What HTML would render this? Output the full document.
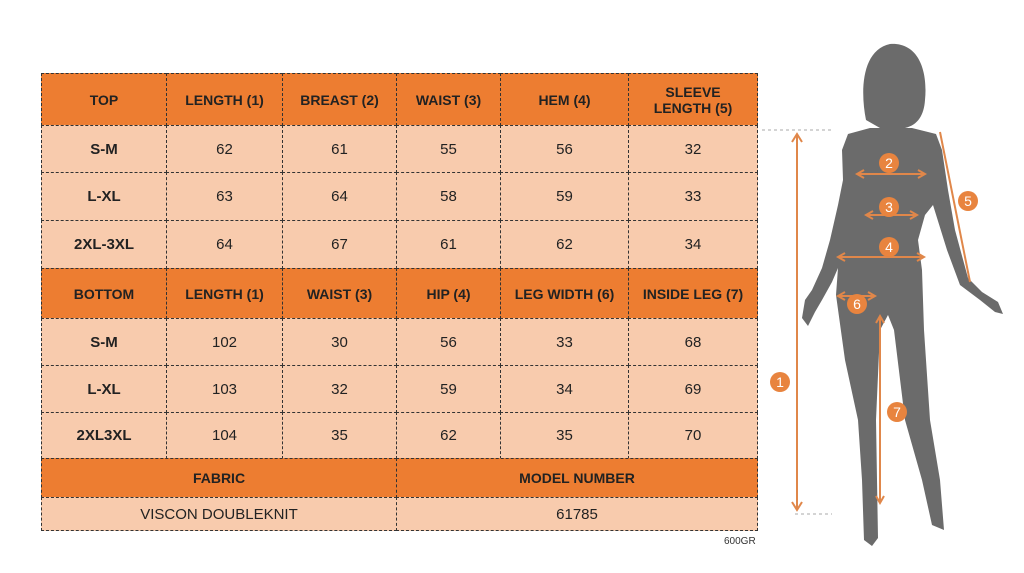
<!DOCTYPE html>
<html><head><meta charset="utf-8"><style>
body{margin:0;width:1024px;height:573px;background:#fff;position:relative;font-family:"Liberation Sans",sans-serif;overflow:hidden}
.c{position:absolute;box-sizing:border-box;border:1px dashed #333;display:flex;align-items:center;justify-content:center;text-align:center;font-size:15px;color:#222}
.h{background:#ed7d31;font-weight:bold;font-size:14px}
.l{background:#f8cbad}
.b{font-weight:bold}
</style></head><body>
<div id="t"></div>
<div style="position:absolute;left:724px;top:536px;font-size:10px;color:#333">600GR</div>
<svg width="1024" height="573" style="position:absolute;left:0;top:0">
<g fill="#6b6b6b">
<path d="M866,120 C860,90 862,50 890,44 C918,42 928,70 925,100 C924,115 918,125 905,128 L880,128 Z"/>
<rect x="880" y="112" width="22" height="24"/>
<polygon points="870,128 848,134 842,150 843,180 838,205 830,240 822,268 812,290 805,300 802,318 808,326 815,312 822,300 832,282 838,268 836,295 845,360 858,420 862,480 864,540 872,546 878,538 877,480 876,420 880,330 888,315 894,330 905,420 922,480 932,525 944,530 940,480 930,420 924,330 922,270 918,240 925,215 933,205 947,250 960,285 980,300 995,312 1003,314 998,302 982,292 968,278 955,230 948,190 942,150 936,134 912,128"/>
</g>
<g stroke="#e0874a" stroke-width="2" fill="none">
<line x1="797" y1="134" x2="797" y2="510"/><polyline points="792,142 797,134 802,142"/><polyline points="792,502 797,510 802,502"/>
<line x1="857" y1="174" x2="925" y2="174"/><polyline points="864,170 857,174 864,178"/><polyline points="918,170 925,174 918,178"/>
<line x1="866" y1="215" x2="917" y2="215"/><polyline points="873,211 866,215 873,219"/><polyline points="910,211 917,215 910,219"/>
<line x1="838" y1="257" x2="924" y2="257"/><polyline points="845,253 838,257 845,261"/><polyline points="917,253 924,257 917,261"/>
<line x1="838" y1="296" x2="875" y2="296"/><polyline points="845,292 838,296 845,300"/><polyline points="868,292 875,296 868,300"/>
<line x1="880" y1="316" x2="880" y2="503"/><polyline points="876,323 880,316 884,323"/><polyline points="876,496 880,503 884,496"/>
<line x1="940" y1="132" x2="970" y2="282"/>
</g>
<g stroke="#aaa" stroke-dasharray="3,3"><line x1="762" y1="130" x2="832" y2="130"/><line x1="795" y1="514" x2="832" y2="514"/></g>
<g fill="#e8843f"><circle cx="889" cy="163" r="10"/><circle cx="889" cy="207" r="10"/><circle cx="889" cy="247" r="10"/><circle cx="968" cy="201" r="10"/><circle cx="857" cy="304" r="10"/><circle cx="780" cy="382" r="10"/><circle cx="897" cy="412" r="10"/></g>
<g fill="#fff" font-size="14" text-anchor="middle" font-family="Liberation Sans"><text x="889" y="168">2</text><text x="889" y="212">3</text><text x="889" y="252">4</text><text x="968" y="206">5</text><text x="857" y="309">6</text><text x="780" y="387">1</text><text x="897" y="417">7</text></g>
</svg>
<script>
var X=[41,166,282,396,500,628,757];
var R=[[73,125,'h',['TOP','LENGTH (1)','BREAST (2)','WAIST (3)','HEM (4)','SLEEVE<br>LENGTH (5)']],
[125,172,'l',['S-M','62','61','55','56','32']],
[172,220,'l',['L-XL','63','64','58','59','33']],
[220,268,'l',['2XL-3XL','64','67','61','62','34']],
[268,318,'h',['BOTTOM','LENGTH (1)','WAIST (3)','HIP (4)','LEG WIDTH (6)','INSIDE LEG (7)']],
[318,365,'l',['S-M','102','30','56','33','68']],
[365,412,'l',['L-XL','103','32','59','34','69']],
[412,458,'l',['2XL3XL','104','35','62','35','70']]];
var s='';
R.forEach(function(r){for(var i=0;i<6;i++){s+='<div class="c '+r[2]+(i==0?' b':'')+'" style="left:'+X[i]+'px;top:'+r[0]+'px;width:'+(X[i+1]-X[i]+1)+'px;height:'+(r[1]-r[0]+1)+'px">'+r[3][i]+'</div>';}});
s+='<div class="c h" style="left:41px;top:458px;width:356px;height:40px">FABRIC</div><div class="c h" style="left:396px;top:458px;width:362px;height:40px">MODEL NUMBER</div>';
s+='<div class="c l" style="left:41px;top:497px;width:356px;height:34px">VISCON DOUBLEKNIT</div><div class="c l" style="left:396px;top:497px;width:362px;height:34px">61785</div>';
document.getElementById('t').innerHTML=s;
</script>
</body></html>
